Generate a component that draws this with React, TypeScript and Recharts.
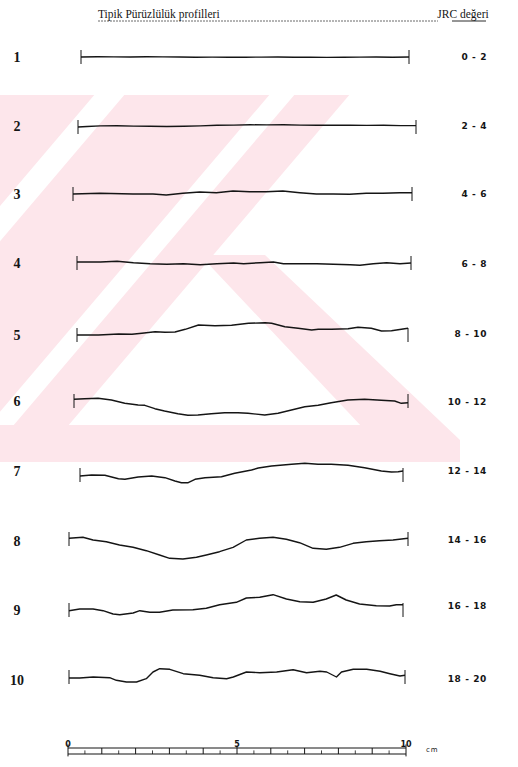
import React from 'react';
import { LineChart, Line, XAxis, YAxis, ReferenceLine } from 'recharts';

// ---------- data ----------
const rowNumbers = ['1', '2', '3', '4', '5', '6', '7', '8', '9', '10'];
const jrcRanges = ['0 - 2', '2 - 4', '4 - 6', '6 - 8', '8 - 10', '10 - 12', '12 - 14', '14 - 16', '16 - 18', '18 - 20'];

// [distance along profile (cm), relief height]
const profile1: number[][] = [[0,0],[0.5,0.2],[1,0.1],[1.5,0],[2,0.2],[2.5,0.1],[3,0],[3.5,-0.2],[4,-0.1],[4.5,-0.3],[5,-0.2],[5.5,-0.1],[6,0],[6.5,-0.3],[7,-0.2],[7.5,-0.4],[8,-0.2],[8.5,-0.1],[9,0],[9.5,-0.2],[10,0]];
const profile2: number[][] = [[0,0],[0.27,0.5],[0.66,1.1],[1.15,1.3],[1.65,0.9],[2.14,0.7],[2.63,0.5],[3.13,0.7],[3.62,1.1],[4.11,1.7],[4.61,1.9],[5.1,2.2],[5.59,2.1],[6.08,2.2],[6.58,1.9],[7.07,1.8],[7.56,1.7],[8.06,1.9],[8.55,1.6],[9.04,1.7],[9.54,1.4],[10,1.4]];
const profile3: number[][] = [[0,0],[0.79,0.7],[1.77,0],[2.36,0],[2.75,-1],[3.24,0.7],[3.74,2],[4.23,1.3],[4.72,3],[5.21,2.3],[5.7,2.3],[6.19,3],[6.69,1.3],[7.18,0],[7.67,0],[8.16,-0.3],[8.65,0.7],[9.14,0.7],[9.64,1.3],[10,1.3]];
const profile4: number[][] = [[0,1],[0.7,1],[1.2,1.7],[1.69,0.3],[2.19,-0.7],[2.69,-1.3],[3.19,-0.7],[3.69,-1.7],[4.19,-0.7],[4.69,0],[4.99,-0.7],[5.48,0.3],[5.88,1],[6.18,-0.7],[6.68,-0.7],[7.18,-0.7],[7.68,-1.3],[8.18,-1.7],[8.47,-2.3],[8.87,-0.7],[9.27,0.3],[9.67,-0.7],[10,0]];
const profile5: number[][] = [[0,0],[0.65,0],[1.26,1],[1.66,0.7],[1.96,1.7],[2.36,3.3],[2.66,2.7],[2.96,3],[3.27,5.7],[3.67,10],[4.17,9.3],[4.67,9.7],[5.18,11.7],[5.68,12.3],[5.88,11.7],[6.28,8.3],[6.68,6.7],[7.09,5],[7.29,5.7],[7.69,5.7],[8.19,6.3],[8.49,7.7],[8.89,6.7],[9.2,4],[9.5,4.3],[9.8,5.7],[10,6.7]];
const profile6: number[][] = [[0,1.7],[0.32,2.3],[0.72,2.7],[1.12,1],[1.52,-2.3],[1.92,-4],[2.12,-4.3],[2.42,-7.7],[2.71,-10],[3.11,-12.7],[3.41,-14.3],[3.71,-14],[4.11,-12.7],[4.51,-11.7],[4.91,-11.7],[5.21,-12.3],[5.71,-14],[6.11,-12.3],[6.51,-9],[6.91,-5.7],[7.31,-4.3],[7.7,-1.7],[8.2,1],[8.7,1.7],[9.2,0.7],[9.6,0],[9.8,-2.3],[10,-1.7]];
const profile7: number[][] = [[0,-1],[0.36,0],[0.77,-0.3],[1.19,-3.7],[1.39,-4.3],[1.8,-2],[2.22,-1],[2.63,-2.7],[2.94,-6],[3.14,-7.7],[3.35,-7.7],[3.56,-4.3],[3.87,-2.7],[4.38,-1.7],[4.79,1.7],[5.31,5],[5.52,7],[5.93,9],[6.55,10.7],[6.96,11.7],[7.37,10.7],[7.78,10.7],[8.3,9.7],[8.81,7.3],[9.33,4],[9.64,3],[9.85,3.3],[10,4]];
const profile8: number[][] = [[0,0.7],[0.41,1.7],[0.71,-1],[1.1,-2.7],[1.49,-6],[1.89,-8.3],[2.28,-11.7],[2.67,-16],[2.97,-19.3],[3.36,-20],[3.76,-18.3],[4.05,-16],[4.44,-12.7],[4.84,-8.3],[5.23,-1],[5.62,0.7],[6.02,1.7],[6.41,-0.3],[6.8,-3.7],[7.2,-9.3],[7.59,-10.3],[7.98,-8.3],[8.38,-4.3],[8.77,-2.7],[9.16,-1.7],[9.56,-1],[10,0.7]];
const profile9: number[][] = [[0,-0.7],[0.32,1],[0.72,1],[1.02,-0.7],[1.32,-4],[1.52,-4.7],[1.92,-3],[2.12,-0.7],[2.42,-2.3],[2.71,-2.3],[3.11,0],[3.71,0.3],[4.11,1.7],[4.51,5.3],[5.01,7.7],[5.31,12],[5.71,12.7],[6.11,15.3],[6.51,11],[6.91,8.3],[7.31,7.7],[7.7,11],[8,15],[8.3,10],[8.7,6],[9.2,4.3],[9.6,4],[9.8,5.3],[10,5.3]];
const profile10: number[][] = [[0,-1],[0.32,-1],[0.72,0],[1.21,-0.7],[1.41,-3.3],[1.71,-5],[2.01,-5],[2.3,-1.7],[2.5,5],[2.7,8.3],[3,7.7],[3.4,3.3],[3.89,1.7],[4.29,-0.7],[4.69,-1.7],[4.89,0],[5.28,5],[5.68,4.3],[6.18,5],[6.67,7.3],[7.07,4.3],[7.47,5.7],[7.67,5],[7.96,0],[8.11,5],[8.46,7.7],[8.86,7.7],[9.26,5.7],[9.55,3.3],[9.85,1],[10,1.7]];

const profiles = [profile1, profile2, profile3, profile4, profile5, profile6, profile7, profile8, profile9, profile10];

const scaleCm = [0, 1, 2, 3, 4, 5, 6, 7, 8, 9, 10];
const scaleHalf = [0.5, 1.5, 2.5, 3.5, 4.5, 5.5, 6.5, 7.5, 8.5, 9.5];
const scaleLabels = [0, 5, 10];

// ---------- layout (page pixels) ----------
const W = 518;
const H = 767;
const rowLeft = [81, 78, 73, 77, 77, 74, 80, 69, 69, 69];
const rowRight = [409, 416, 412, 411, 408, 408, 403, 408, 403, 405];
const rowBase = [57, 127, 194, 263, 335, 401, 475, 539, 610, 677];
const rowLabelY = [57, 126, 194, 263, 335, 401, 471, 541, 610, 680];
const jrcLabelY = [57, 126, 194, 264, 334, 402, 471, 540, 606, 679];
const ROW_H = 50;
const INK = '#151515';

function ProfileRow({ idx }: { idx: number }) {
  const data = profiles[idx].map(([x, h]) => ({ x, h }));
  return (
    <div style={{ position: 'absolute', left: 0, top: rowBase[idx] - ROW_H / 2, width: W, height: ROW_H }}>
      <LineChart
        width={W}
        height={ROW_H}
        data={data}
        margin={{ top: 0, bottom: 0, left: rowLeft[idx], right: W - rowRight[idx] }}
      >
        <XAxis type="number" dataKey="x" domain={[0, 10]} hide />
        <YAxis type="number" domain={[-ROW_H / 2, ROW_H / 2]} hide />
        <ReferenceLine segment={[{ x: 0, y: -7 }, { x: 0, y: 7 }]} stroke={INK} strokeWidth={1} />
        <ReferenceLine segment={[{ x: 10, y: -7 }, { x: 10, y: 7 }]} stroke={INK} strokeWidth={1} />
        <Line
          type="linear"
          dataKey="h"
          stroke={INK}
          strokeWidth={1.4}
          dot={false}
          activeDot={false}
          isAnimationActive={false}
          strokeLinejoin="round"
        />
      </LineChart>
    </div>
  );
}

function ScaleBar() {
  const data = [{ x: 0, lo: 0, hi: 1 }, { x: 10, lo: 0, hi: 1 }];
  return (
    <div style={{ position: 'absolute', left: 0, top: 720, width: W, height: 50 }}>
      <LineChart width={W} height={50} data={data} margin={{ top: 18, bottom: 16, left: 68, right: W - 406 }}>
        <XAxis
          type="number"
          dataKey="x"
          domain={[0, 10]}
          orientation="top"
          height={10}
          ticks={scaleLabels}
          interval={0}
          axisLine={false}
          tickLine={false}
          tickSize={0}
          tickMargin={1}
          tick={{ fontSize: 8, fontWeight: 700, fill: INK, fontFamily: 'DejaVu Sans' }}
        />
        <YAxis type="number" domain={[0, 1]} hide />
        <Line type="linear" dataKey="lo" stroke={INK} strokeWidth={1.2} dot={false} isAnimationActive={false} />
        <Line type="linear" dataKey="hi" stroke={INK} strokeWidth={1} dot={false} isAnimationActive={false} />
        {scaleCm.map((t) => (
          <ReferenceLine
            key={'c' + t}
            segment={t === 0 || t === 10 ? [{ x: t, y: -0.4 }, { x: t, y: 1.6 }] : t === 5 ? [{ x: t, y: 0 }, { x: t, y: 1.4 }] : [{ x: t, y: 0 }, { x: t, y: 1 }]}
            ifOverflow="visible"
            stroke={INK}
            strokeWidth={1}
          />
        ))}
        {scaleHalf.map((t) => (
          <ReferenceLine key={'h' + t} segment={[{ x: t, y: 0 }, { x: t, y: 0.6 }]} stroke={INK} strokeWidth={0.8} />
        ))}
      </LineChart>
    </div>
  );
}

function Watermark() {
  const pink = '#fde6eb';
  // stripes parallel to direction (-0.85, 1); c = x + 0.85*y
  const band = (c1: number, c2: number) => {
    const a = 0.85;
    return `${c1 - a * 95},95 ${c2 - a * 95},95 ${c2 - a * 462},462 ${c1 - a * 462},462`;
  };
  return (
    <g>
      <defs>
        <clipPath id="wm-clip">
          <rect x={0} y={95} width={460} height={367} />
        </clipPath>
      </defs>
      <g clipPath="url(#wm-clip)" fill={pink}>
        <polygon points={band(-500, 175)} />
        <polygon points={band(205, 350)} />
        <polygon points={band(375, 430)} />
        <polygon points="200,255 265,255 460,440 460,462 395,462" />
        <polygon points="0,425 440,425 460,462 0,462" />
      </g>
    </g>
  );
}

export default function App() {
  return (
    <div style={{ position: 'absolute', left: 0, top: 0, width: W, height: H, background: '#fff', overflow: 'hidden' }}>
      <svg width={W} height={H} style={{ position: 'absolute', left: 0, top: 0 }}>
        <Watermark />
        <text x={98} y={18} fontFamily="Liberation Serif" fontSize={11.5} fill={INK}>
          Tipik Pürüzlülük profilleri
        </text>
        <line x1={98} y1={21} x2={438} y2={21} stroke="#444" strokeWidth={0.8} strokeDasharray="2 1" />
        <text x={463} y={18} textAnchor="middle" fontFamily="Liberation Serif" fontSize={11.5} fill={INK}>
          JRC değeri
        </text>
        <line x1={452} y1={21} x2={486} y2={21} stroke={INK} strokeWidth={0.9} />
        {rowNumbers.map((r, i) => (
          <text
            key={'r' + r}
            x={17}
            y={rowLabelY[i]}
            textAnchor="middle"
            dominantBaseline="central"
            fontFamily="Liberation Serif"
            fontWeight={700}
            fontSize={14}
            fill={INK}
          >
            {r}
          </text>
        ))}
        {jrcRanges.map((t, i) => (
          <text
            key={'j' + i}
            x={487}
            y={jrcLabelY[i]}
            textAnchor="end"
            dominantBaseline="central"
            fontFamily="DejaVu Sans"
            fontWeight={700}
            fontSize={9}
            letterSpacing={0.6}
            fill={INK}
          >
            {t}
          </text>
        ))}
        <text x={426} y={752} fontFamily="DejaVu Sans" fontSize={7} letterSpacing={1} fill={INK}>
          cm
        </text>
      </svg>
      {profiles.map((_, i) => (
        <ProfileRow key={i} idx={i} />
      ))}
      <ScaleBar />
    </div>
  );
}
